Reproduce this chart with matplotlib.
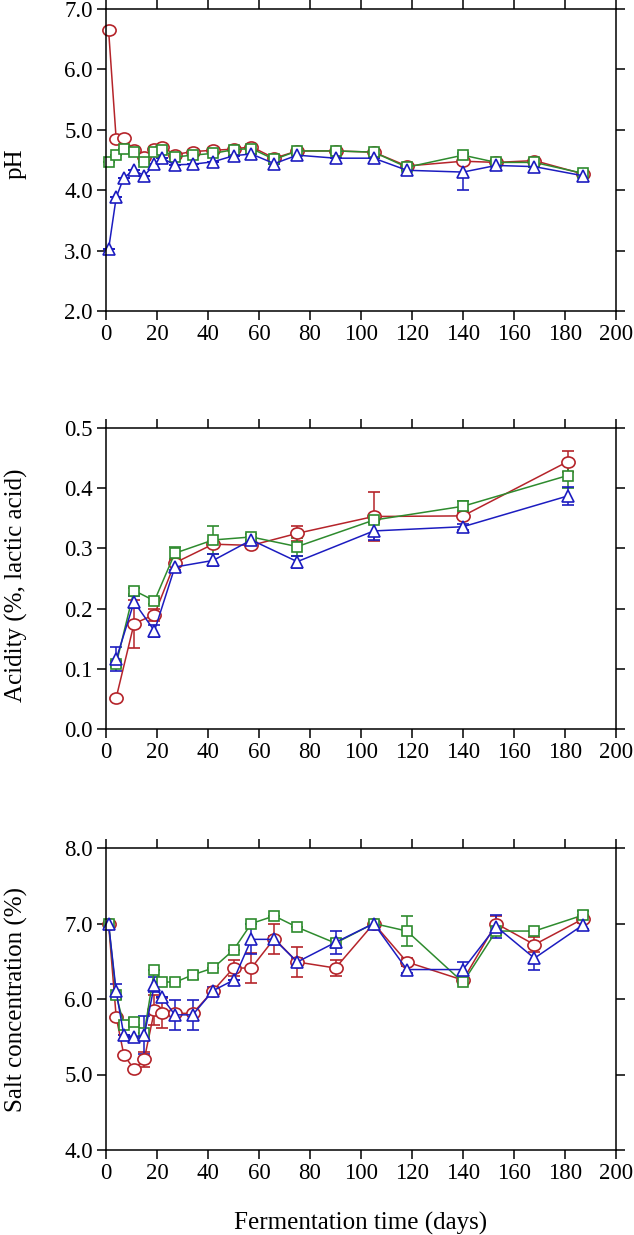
import matplotlib
matplotlib.use('Agg')
import matplotlib.pyplot as plt
import numpy as np
from matplotlib.path import Path

plt.rcParams['font.family'] = ['Liberation Serif', 'DejaVu Serif']

# 数据
days = [1, 4, 7, 11, 15, 19, 22, 27, 34, 42, 50, 57, 66, 75, 90, 105, 118, 140, 153, 168, 187]

ph_red = [6.66, 4.84, 4.86, 4.66, 4.55, 4.69, 4.72, 4.59, 4.64, 4.66, 4.68, 4.72, 4.53, 4.65, 4.65,
          4.63, 4.40, 4.48, 4.46, 4.49, 4.27]
ph_green = [4.46, 4.58, 4.69, 4.63, 4.47, 4.64, 4.67, 4.55, 4.58, 4.61, 4.67, 4.69, 4.51, 4.65, 4.65,
            4.63, 4.38, 4.58, 4.46, 4.46, 4.28]
ph_blue = [3.02, 3.88, 4.21, 4.33, 4.24, 4.43, 4.53, 4.42, 4.43, 4.47, 4.57, 4.60, 4.44, 4.58, 4.53,
           4.53, 4.33, 4.30, 4.41, 4.39, 4.24]
ph_red_err = [0] * 17 + [0.05, 0, 0.02, 0]
ph_green_err = [0] * 17 + [0.04, 0, 0, 0]
ph_blue_err = [0] * 17 + [0.30, 0, 0, 0]

acid_days = [4, 11, 19, 27, 42, 57, 75, 105, 140, 181]
acid_red = [0.052, 0.175, 0.190, 0.276, 0.307, 0.305, 0.325, 0.353, 0.354, 0.444]
acid_green = [0.108, 0.230, 0.213, 0.292, 0.314, 0.319, 0.303, 0.347, 0.370, 0.421]
acid_blue = [0.116, 0.211, 0.163, 0.269, 0.280, 0.314, 0.278, 0.329, 0.336, 0.387]
acid_red_err = [0, 0.04, 0.01, 0.005, 0.005, 0.005, 0.012, 0.04, 0.005, 0.017]
acid_green_err = [0.005, 0.005, 0.005, 0.01, 0.023, 0.005, 0.015, 0.005, 0.008, 0.02]
acid_blue_err = [0.02, 0.01, 0.01, 0.005, 0.01, 0.005, 0.01, 0.015, 0.005, 0.015]

salt_red = [7.00, 5.76, 5.26, 5.07, 5.20, 5.85, 5.81, 5.81, 5.81, 6.11, 6.41, 6.41, 6.80, 6.49, 6.41,
            7.00, 6.49, 6.25, 7.00, 6.72, 7.06]
salt_green = [7.00, 6.05, 5.66, 5.70, 5.55, 6.39, 6.23, 6.22, 6.32, 6.41, 6.65, 7.00, 7.10, 6.95, 6.74,
              7.00, 6.90, 6.22, 6.90, 6.90, 7.11]
salt_blue = [7.00, 6.10, 5.52, 5.50, 5.52, 6.19, 6.02, 5.79, 5.79, 6.11, 6.25, 6.79, 6.79, 6.49, 6.75,
             7.00, 6.39, 6.39, 6.96, 6.54, 6.98]
salt_red_err = [0, 0, 0, 0, 0.1, 0.2, 0.2, 0, 0, 0, 0.1, 0.2, 0.2, 0.2, 0.1, 0, 0.05, 0, 0.1, 0.1, 0.05]
salt_green_err = [0, 0, 0, 0.05, 0, 0, 0, 0, 0.05, 0, 0, 0, 0, 0, 0.05, 0, 0.2, 0, 0.05, 0, 0.05]
salt_blue_err = [0, 0.1, 0, 0, 0.25, 0.1, 0, 0.2, 0.2, 0.05, 0, 0.2, 0.05, 0.05, 0.15, 0, 0.05, 0.1,
                 0.15, 0.15, 0.05]

RED = '#B5242A'
GREEN = '#2E8B2E'
BLUE = '#1C1CC0'

# 椭圆形的圆圈标记
circ = Path.unit_circle()
ellipse = Path(circ.vertices * np.array([1.0, 0.84]), circ.codes)


def draw_series(ax, x, y, err, color, marker, ms):
    ax.errorbar(x, y, yerr=err, color=color, lw=1.1, marker=marker, ms=ms, mfc='white',
                mec=color, mew=1.2, capsize=4.5, elinewidth=1.1, capthick=1.1, clip_on=False)


def style_axis(ax, ylim, yticks, ylabel, label_y):
    ax.set_xlim(0, 200)
    ax.set_xticks(range(0, 201, 20))
    ax.set_ylim(*ylim)
    ax.set_yticks(yticks)
    ax.set_yticklabels([f'{t:.1f}' for t in yticks])
    ax.tick_params(direction='out', length=6.5, width=1.1, labelsize=16.5, pad=3,
                   top=True, right=True)
    for s in ax.spines.values():
        s.set_linewidth(1.1)
    fig.text(16 / 634, label_y, ylabel, rotation=90, ha='center', va='center', fontsize=18)


fig = plt.figure(figsize=(6.34, 12.35), dpi=100)
left = 106 / 634
width = 510 / 634

ax1 = fig.add_axes([left, 1 - 311 / 1235, width, 302 / 1235])
draw_series(ax1, days, ph_red, ph_red_err, RED, ellipse, 9.5)
draw_series(ax1, days, ph_green, ph_green_err, GREEN, 's', 7.2)
draw_series(ax1, days, ph_blue, ph_blue_err, BLUE, '^', 9)
style_axis(ax1, (2.0, 7.0), [2.0, 3.0, 4.0, 5.0, 6.0, 7.0], 'pH', 1 - 164 / 1235)

ax2 = fig.add_axes([left, 1 - 729 / 1235, width, 301 / 1235])
draw_series(ax2, acid_days, acid_red, acid_red_err, RED, ellipse, 9.5)
draw_series(ax2, acid_days, acid_green, acid_green_err, GREEN, 's', 7.2)
draw_series(ax2, acid_days, acid_blue, acid_blue_err, BLUE, '^', 9)
style_axis(ax2, (0.0, 0.5), [0.0, 0.1, 0.2, 0.3, 0.4, 0.5], 'Acidity (%, lactic acid)', 1 - 585 / 1235)

ax3 = fig.add_axes([left, 1 - 1150 / 1235, width, 302 / 1235])
draw_series(ax3, days, salt_red, salt_red_err, RED, ellipse, 9.5)
draw_series(ax3, days, salt_green, salt_green_err, GREEN, 's', 7.2)
draw_series(ax3, days, salt_blue, salt_blue_err, BLUE, '^', 9)
style_axis(ax3, (4.0, 8.0), [4.0, 5.0, 6.0, 7.0, 8.0], 'Salt concentration (%)', 1 - 999 / 1235)
ax3.set_xlabel('Fermentation time (days)', fontsize=18, labelpad=20)

fig.savefig('out.png', dpi=100)
